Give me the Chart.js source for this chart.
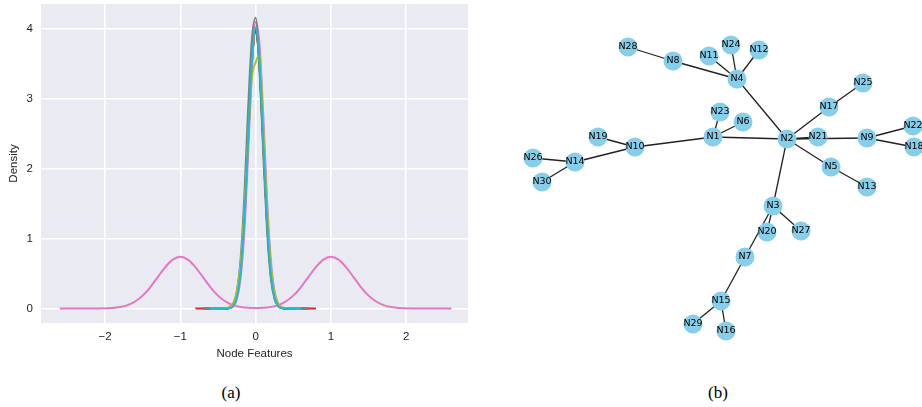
<!DOCTYPE html>
<html>
<head>
<meta charset="utf-8">
<script src="https://cdn.jsdelivr.net/npm/chart.js@4.4.1/dist/chart.umd.min.js"></script>
<style>
  body { margin: 0; background: #fff; width: 922px; height: 407px; overflow: hidden; position: relative; }
  #panelA { position: absolute; left: 0; top: 0; }
  #panelB { position: absolute; left: 480px; top: 0; }
  .caption { position: absolute; top: 383px; line-height: 20px; font-family: "Liberation Serif", "DejaVu Serif", serif; font-size: 17px; color: #000; transform: translateX(-50%); }
</style>
</head>
<body>
<canvas id="panelA" width="480" height="370"></canvas>
<canvas id="panelB" width="442" height="370"></canvas>
<div class="caption" style="left:231px">(a)</div>
<div class="caption" style="left:718px">(b)</div>
<script>
// ==========================================
// (a) Densidades de las features de nodo
// ==========================================
const xTicksA = [-2, -1, 0, 1, 2];
const yTicksA = [0, 1, 2, 3, 4];

// puntos x comunes para las curvas estrechas (null = fuera del rango de esa curva)
const narrowX = [-0.8, -0.7, -0.6, -0.4, -0.35, -0.3, -0.25, -0.2, -0.15, -0.1, -0.05, 0, 0.05, 0.1, 0.15, 0.2, 0.25, 0.3, 0.35, 0.4, 0.6, 0.7, 0.8];

const featBlue   = [null, 0, 0, 0.001, 0.008, 0.04, 0.17, 0.52, 1.27, 2.40, 3.50, 3.98, 3.56, 2.47, 1.33, 0.56, 0.19, 0.05, 0.01, 0.001, 0, 0, null];
const featOrange = [null, 0, 0, 0.002, 0.01, 0.05, 0.19, 0.56, 1.32, 2.44, 3.52, 3.95, 3.50, 2.40, 1.28, 0.53, 0.18, 0.045, 0.01, 0.002, 0, 0, null];
const featGreen  = [null, 0, 0, 0.002, 0.012, 0.055, 0.20, 0.58, 1.36, 2.48, 3.55, 3.97, 3.49, 2.38, 1.26, 0.51, 0.17, 0.04, 0.008, 0.001, 0, 0, null];
const featRed    = [0, 0, 0, 0.001, 0.009, 0.045, 0.18, 0.54, 1.30, 2.42, 3.52, 3.99, 3.54, 2.44, 1.31, 0.55, 0.18, 0.045, 0.009, 0.001, 0, 0, 0];
const featPurple = [null, null, 0, 0.001, 0.008, 0.042, 0.17, 0.53, 1.28, 2.41, 3.53, 4.02, 3.57, 2.46, 1.32, 0.55, 0.18, 0.044, 0.009, 0.001, 0, null, null];
const featBrown  = [null, 0, 0, 0.002, 0.011, 0.05, 0.19, 0.55, 1.31, 2.43, 3.51, 3.97, 3.52, 2.43, 1.30, 0.54, 0.18, 0.045, 0.01, 0.002, 0, 0, null];
const featPink   = [null, 0, 0, 0.001, 0.006, 0.03, 0.13, 0.43, 1.10, 2.20, 3.40, 4.10, 3.80, 2.80, 1.60, 0.72, 0.25, 0.07, 0.015, 0.002, 0, 0, null];
const featGray   = [null, 0, 0, 0.002, 0.013, 0.06, 0.24, 0.70, 1.60, 2.85, 3.85, 4.16, 3.45, 2.25, 1.15, 0.45, 0.14, 0.035, 0.007, 0.001, 0, 0, null];
const featOlive  = [null, null, 0, 0.004, 0.02, 0.07, 0.24, 0.63, 1.38, 2.42, 3.30, 3.52, 3.64, 2.60, 1.45, 0.64, 0.22, 0.06, 0.014, 0.002, 0, null, null];
const featCyan   = [null, null, 0, 0, 0.006, 0.035, 0.16, 0.52, 1.28, 2.42, 3.55, 4.02, 3.55, 2.42, 1.28, 0.52, 0.16, 0.035, 0.006, 0, 0, null, null];

// la feature bimodal (picos en -1 y 1)
const bimodalX = [-2.6, -2.2, -1.9, -1.8, -1.7, -1.6, -1.5, -1.4, -1.3, -1.2, -1.1, -1.0, -0.9, -0.8, -0.7, -0.6, -0.5, -0.4, -0.3, -0.2, -0.1, 0,
                  0.1, 0.2, 0.3, 0.4, 0.5, 0.6, 0.7, 0.8, 0.9, 1.0, 1.1, 1.2, 1.3, 1.4, 1.5, 1.6, 1.7, 1.8, 1.9, 2.2, 2.6];
const bimodalY = [0, 0.0005, 0.008, 0.021, 0.049, 0.10, 0.184, 0.304, 0.449, 0.593, 0.70, 0.74, 0.70, 0.593, 0.449, 0.304, 0.184, 0.10, 0.049, 0.021, 0.009, 0.006,
                  0.009, 0.021, 0.049, 0.10, 0.184, 0.304, 0.449, 0.593, 0.70, 0.74, 0.70, 0.593, 0.449, 0.304, 0.184, 0.10, 0.049, 0.021, 0.008, 0.0005, 0];

// paleta tab10 de matplotlib
const narrowSeries = [featBlue, featOrange, featGreen, featRed, featPurple, featBrown, featPink, featGray, featOlive, featCyan];
const narrowColors = ['#1f77b4', '#ff7f0e', '#2ca02c', '#d62728', '#9467bd', '#8c564b', '#e377c2', '#7f7f7f', '#bcbd22', '#17becf'];
const bimodalColor = '#e377c2';

const textColor = '#262626';
const axisFont = { family: '"Liberation Sans", Arial, sans-serif', size: 11.5 };
const fmtTick = v => (v < 0 ? '\u2212' + Math.abs(v) : String(v));

// fondo gris del area de dibujo (estilo seaborn darkgrid)
const plotBg = {
    id: 'plotBg',
    beforeDraw(chart, args, opts) {
        const { ctx, chartArea: a } = chart;
        ctx.save();
        ctx.fillStyle = opts.color;
        ctx.fillRect(a.left, a.top, a.right - a.left, a.bottom - a.top);
        ctx.restore();
    }
};

const densityDatasets = narrowSeries.map((ys, i) => ({
    data: narrowX.map((x, j) => ({ x: x, y: ys[j] })),
    borderColor: narrowColors[i],
    order: narrowSeries.length - i  // las ultimas quedan encima, como en matplotlib
}));
densityDatasets.push({
    data: bimodalX.map((x, j) => ({ x: x, y: bimodalY[j] })),
    borderColor: bimodalColor,
    order: 20
});

new Chart(document.getElementById('panelA').getContext('2d'), {
    type: 'line',
    data: { datasets: densityDatasets },
    plugins: [plotBg],
    options: {
        responsive: false,
        animation: false,
        events: [],
        layout: { autoPadding: false, padding: { top: 4, right: 12, left: 0, bottom: 0 } },
        plugins: {
            legend: { display: false },
            tooltip: { enabled: false },
            plotBg: { color: '#eaeaf2' }
        },
        elements: {
            point: { radius: 0 },
            line: { borderWidth: 2, cubicInterpolationMode: 'monotone', fill: false }
        },
        scales: {
            x: {
                type: 'linear', min: -2.85, max: 2.82, bounds: 'data',
                border: { display: false },
                grid: { color: '#ffffff', lineWidth: 1.6, drawTicks: false },
                afterBuildTicks: s => { s.ticks = xTicksA.map(v => ({ value: v })); },
                afterFit: s => { s.height = 47; s.paddingLeft = 0; s.paddingRight = 0; },
                ticks: { padding: 7, color: textColor, font: axisFont, callback: v => fmtTick(v) },
                title: { display: true, text: 'Node Features', color: textColor, font: axisFont, padding: { top: 0, bottom: 9 } }
            },
            y: {
                type: 'linear', min: -0.2075, max: 4.3575, bounds: 'data',
                border: { display: false },
                grid: { color: '#ffffff', lineWidth: 1.6, drawTicks: false },
                afterBuildTicks: s => { s.ticks = yTicksA.map(v => ({ value: v })); },
                afterFit: s => { s.width = 41; s.paddingTop = 0; s.paddingBottom = 0; },
                ticks: { padding: 8, color: textColor, font: axisFont, callback: v => fmtTick(v) },
                title: { display: true, text: 'Density', color: textColor, font: axisFont, padding: { top: 7, bottom: 0 } }
            }
        }
    }
});

// ==========================================
// (b) Grafo (posiciones del layout)
// ==========================================
const nodeNames = ['N1', 'N2', 'N3', 'N4', 'N5', 'N6', 'N7', 'N8', 'N9', 'N10',
                   'N11', 'N12', 'N13', 'N14', 'N15', 'N16', 'N17', 'N18', 'N19', 'N20',
                   'N21', 'N22', 'N23', 'N24', 'N25', 'N26', 'N27', 'N28', 'N29', 'N30'];
const nodeX = [-0.035, 0.335, 0.265, 0.085, 0.555, 0.115, 0.125, -0.235, 0.735, -0.425,
               -0.055, 0.195, 0.735, -0.725, 0.005, 0.03, 0.545, 0.97, -0.61, 0.235,
               0.49, 0.965, 0.0, 0.055, 0.715, -0.935, 0.405, -0.46, -0.135, -0.89];
const nodeY = [0.24, 0.23, -0.105, 0.53, 0.09, 0.315, -0.36, 0.62, 0.235, 0.19,
               0.645, 0.675, -0.01, 0.115, -0.58, -0.73, 0.39, 0.19, 0.24, -0.235,
               0.24, 0.295, 0.365, 0.70, 0.51, 0.135, -0.23, 0.69, -0.695, 0.015];
const edges = [
    ['N28', 'N8'], ['N8', 'N4'], ['N11', 'N4'], ['N24', 'N4'], ['N12', 'N4'], ['N4', 'N2'],
    ['N23', 'N1'], ['N6', 'N1'], ['N1', 'N2'], ['N19', 'N10'], ['N10', 'N1'],
    ['N26', 'N14'], ['N14', 'N10'], ['N30', 'N14'], ['N17', 'N2'], ['N25', 'N17'],
    ['N21', 'N2'], ['N9', 'N2'], ['N22', 'N9'], ['N18', 'N9'], ['N5', 'N2'], ['N13', 'N5'],
    ['N3', 'N2'], ['N27', 'N3'], ['N20', 'N3'], ['N7', 'N3'], ['N15', 'N7'], ['N29', 'N15'], ['N16', 'N15']
];

const nodePoint = name => {
    const i = nodeNames.indexOf(name);
    return { x: nodeX[i], y: nodeY[i] };
};

// etiquetas de los nodos en el centro de cada circulo
const nodeLabels = {
    id: 'nodeLabels',
    afterDatasetsDraw(chart) {
        const meta = chart.getDatasetMeta(0);
        const ctx = chart.ctx;
        ctx.save();
        ctx.font = '9.5px "DejaVu Sans"';
        ctx.fillStyle = '#000';
        ctx.textAlign = 'center';
        ctx.textBaseline = 'middle';
        meta.data.forEach((el, i) => ctx.fillText(nodeNames[i], el.x, el.y));
        ctx.restore();
    }
};

const graphDatasets = [{
    data: nodeNames.map((n, i) => ({ x: nodeX[i], y: nodeY[i] })),
    pointRadius: 9.5,
    pointBackgroundColor: '#87ceeb',
    pointBorderWidth: 0,
    showLine: false,
    clip: false,
    order: 0
}].concat(edges.map(([a, b]) => ({
    data: [nodePoint(a), nodePoint(b)],
    showLine: true,
    borderColor: '#222222',
    borderWidth: 1.3,
    pointRadius: 0,
    clip: false,
    order: 1
})));

new Chart(document.getElementById('panelB').getContext('2d'), {
    type: 'scatter',
    data: { datasets: graphDatasets },
    plugins: [nodeLabels],
    options: {
        responsive: false,
        animation: false,
        events: [],
        layout: { autoPadding: false, padding: 0 },
        plugins: { legend: { display: false }, tooltip: { enabled: false } },
        scales: {
            x: { type: 'linear', min: -1.2, max: 1.01, display: false },
            y: { type: 'linear', min: -0.925, max: 0.925, display: false }
        }
    }
});
</script>
</body>
</html>
